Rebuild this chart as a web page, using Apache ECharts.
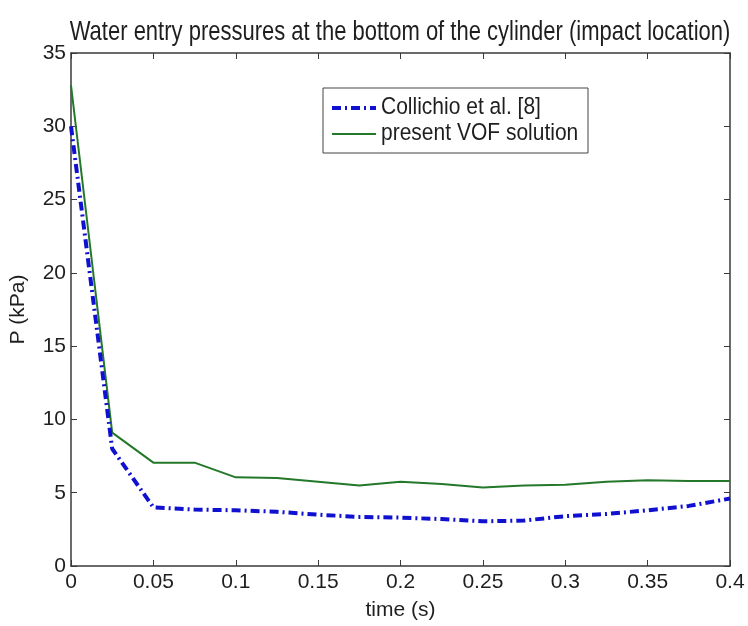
<!DOCTYPE html>
<html>
<head>
<meta charset="utf-8">
<script src="https://cdn.jsdelivr.net/npm/echarts@6/dist/echarts.min.js"></script>
<style>
  html, body { margin: 0; padding: 0; background: #fff; }
  #chart { width: 748px; height: 626px; }
</style>
</head>
<body>
<div id="chart"></div>
<script>
// Sample times (s)
const times = [0, 0.025, 0.05, 0.075, 0.1, 0.125, 0.15, 0.175, 0.2, 0.225, 0.25, 0.275, 0.3, 0.325, 0.35, 0.375, 0.4];
// Pressure at the impact point (kPa)
const collichio = [30.0, 8.0, 4.0, 3.85, 3.8, 3.7, 3.5, 3.35, 3.3, 3.2, 3.05, 3.1, 3.4, 3.55, 3.8, 4.1, 4.6];
const vofSolution = [32.8, 9.1, 7.05, 7.05, 6.05, 6.0, 5.75, 5.5, 5.75, 5.6, 5.35, 5.5, 5.55, 5.75, 5.85, 5.8, 5.8];
const seriesNames = ['Collichio et al. [8]', 'present VOF solution'];
const titleText = 'Water entry pressures at the bottom of the cylinder (impact location)';
const xTicks = [0, 0.05, 0.1, 0.15, 0.2, 0.25, 0.3, 0.35, 0.4];
const yTicks = [0, 5, 10, 15, 20, 25, 30, 35];

const font = 'Liberation Sans, Arial, sans-serif';
const axisColor = '#3a3a3a';
const textColor = '#1e1e1e';
const blue = '#1010d0';
const green = '#23782a';

const pairs = arr => times.map((t, i) => [t, arr[i]]);

const chart = echarts.init(document.getElementById('chart'), null, { renderer: 'canvas' });

const baseX = {
  type: 'value', min: xTicks[0], max: xTicks[xTicks.length - 1], interval: 0.05,
  axisLine: { show: true, onZero: false, lineStyle: { color: axisColor, width: 1.5 } },
  axisTick: { show: true, inside: true, length: 6, lineStyle: { color: axisColor } },
  splitLine: { show: false }
};
const baseY = {
  type: 'value', min: yTicks[0], max: yTicks[yTicks.length - 1], interval: 5,
  axisLine: { show: true, onZero: false, lineStyle: { color: axisColor, width: 1.5 } },
  axisTick: { show: true, inside: true, length: 6, lineStyle: { color: axisColor } },
  splitLine: { show: false }
};

chart.setOption({
  backgroundColor: '#ffffff',
  animation: false,
  grid: { left: 71, right: 18, top: 53, bottom: 60 },
  graphic: [
    // tall, narrow title lettering
    { type: 'text', x: 400, y: 33, scaleY: 1.22,
      style: { text: titleText, font: '22px ' + font, fill: textColor,
               textAlign: 'center', textVerticalAlign: 'middle' } },
    // legend box
    { type: 'rect', shape: { x: 323, y: 88, width: 265, height: 65 },
      style: { fill: '#fff', stroke: '#444', lineWidth: 1 } },
    { type: 'line', shape: { x1: 332, y1: 108, x2: 376, y2: 108 },
      style: { stroke: blue, lineWidth: 4, lineDash: [9, 4, 2, 4] } },
    { type: 'text', x: 381, y: 108, scaleY: 1.1,
      style: { text: seriesNames[0], font: '21px ' + font, fill: textColor, textVerticalAlign: 'middle' } },
    { type: 'line', shape: { x1: 332, y1: 134, x2: 376, y2: 134 },
      style: { stroke: green, lineWidth: 2 } },
    { type: 'text', x: 381, y: 134, scaleY: 1.1,
      style: { text: seriesNames[1], font: '21px ' + font, fill: textColor, textVerticalAlign: 'middle' } }
  ],
  xAxis: [
    Object.assign({}, baseX, {
      position: 'bottom',
      name: 'time (s)', nameLocation: 'middle', nameGap: 34,
      nameTextStyle: { fontFamily: font, fontSize: 21, color: textColor },
      axisLabel: { show: true, fontFamily: font, fontSize: 21, color: textColor, margin: 6,
        formatter: v => String(+v.toFixed(2)) }
    }),
    Object.assign({}, baseX, { position: 'top', axisLabel: { show: false } })
  ],
  yAxis: [
    Object.assign({}, baseY, {
      position: 'left',
      name: 'P (kPa)', nameLocation: 'middle', nameGap: 42,
      nameTextStyle: { fontFamily: font, fontSize: 21, color: textColor },
      axisLabel: { show: true, fontFamily: font, fontSize: 21, color: textColor, margin: 5 }
    }),
    Object.assign({}, baseY, { position: 'right', axisLabel: { show: false } })
  ],
  series: [
    {
      name: seriesNames[1], type: 'line', data: pairs(vofSolution),
      showSymbol: false, lineStyle: { color: green, width: 2 }, z: 2
    },
    {
      name: seriesNames[0], type: 'line', data: pairs(collichio),
      showSymbol: false, lineStyle: { color: blue, width: 4, type: [9, 4, 2, 4] }, z: 3
    }
  ]
});
</script>
</body>
</html>
